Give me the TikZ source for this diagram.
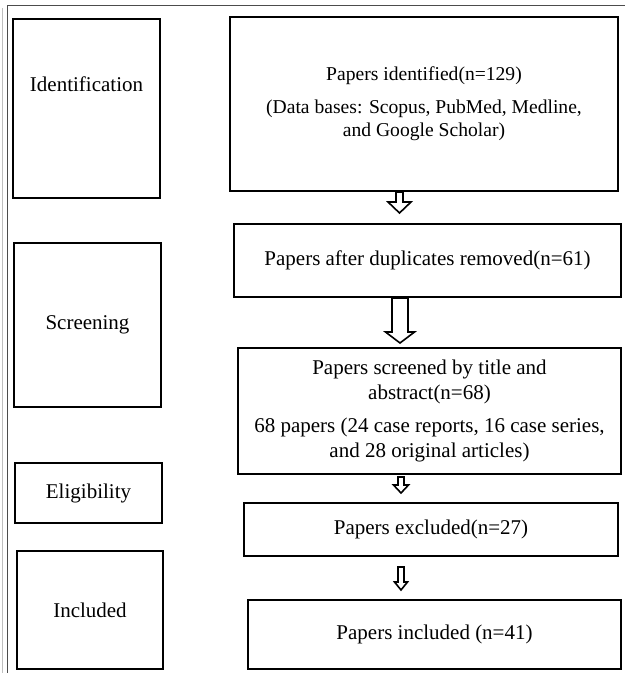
\documentclass[tikz,border=0pt]{standalone}
\usepackage{fontspec}
\setmainfont{Liberation Serif}
\usetikzlibrary{calc}

% hollow block arrow between two boxes
% #1 from, #2 to, #3 x, #4 start gap, #5 end gap, #6 shaft half, #7 head half, #8 head length
\newcommand{\hollowarrow}[8]{%
  \coordinate (top) at ($(#3,0 |- #1.south)+(0,#4)$);
  \coordinate (tip) at ($(#3,0 |- #2.north)+(0,-#5)$);
  \draw[hollow] ($(top)+(-#6,0)$) -- ($(tip)+(-#6,-#8)$) -- ($(tip)+(-#7,-#8)$) -- (tip)
                -- ($(tip)+(#7,-#8)$) -- ($(tip)+(#6,-#8)$) -- ($(top)+(#6,0)$) -- cycle;
}

\begin{document}
\begin{tikzpicture}[x=0.5pt, y=-0.5pt,
  box/.style 2 args={draw=black, line width=1pt, fill=white, anchor=north west, inner sep=0pt,
                     align=center, minimum width=#1*0.5pt, minimum height=#2*0.5pt,
                     font=\fontsize{10.5}{12.5}\selectfont},
  hollow/.style={draw=black, line width=0.8pt, fill=white, line join=miter}]

\useasboundingbox (0,0) rectangle (625,673);

% draw page frame
\draw[color=black!25, line width=0.5pt] (2,8) -- (2,673);
\draw[color=black!70, line width=0.5pt] (7,673) -- (7,6) -- (625,6);

% draw phase boxes
\node[box={147}{179}, text depth=24pt] (ident) at (12,18) {Identification};
\node[box={147}{164}] (screen) at (13,242) {Screening};
\node[box={147}{60}] (elig) at (14,462) {Eligibility};
\node[box={146}{118}] (incl) at (16,550) {Included};

% draw flow boxes
\node[box={388}{174}, font=\fontsize{9.8}{11.5}\selectfont] (found) at (229,16)
  {Papers identified(n=129)\\[5pt](Data bases: Scopus, PubMed, Medline,\\and Google Scholar)};
\node[box={387}{73}] (dupl) at (233,223) {Papers after duplicates removed(n=61)};
\node[box={383}{126}] (title) at (237,347)
  {Papers screened by title and\\abstract(n=68)\\[4pt]68 papers (24 case reports, 16 case series,\\and 28 original articles)};
\node[box={374}{53}] (excl) at (243,502) {Papers excluded(n=27)};
\node[box={373}{69}] (kept) at (247,599) {Papers included (n=41)};

% draw arrows
\hollowarrow{found}{dupl}{399.5}{0}{10}{3.5}{11.5}{11}
\hollowarrow{dupl}{title}{400}{0}{4}{8}{14.5}{11}
\hollowarrow{title}{excl}{401}{2}{9}{3}{7.5}{8}
\hollowarrow{excl}{kept}{401}{10}{9}{3}{6.5}{8}

\end{tikzpicture}
\end{document}
